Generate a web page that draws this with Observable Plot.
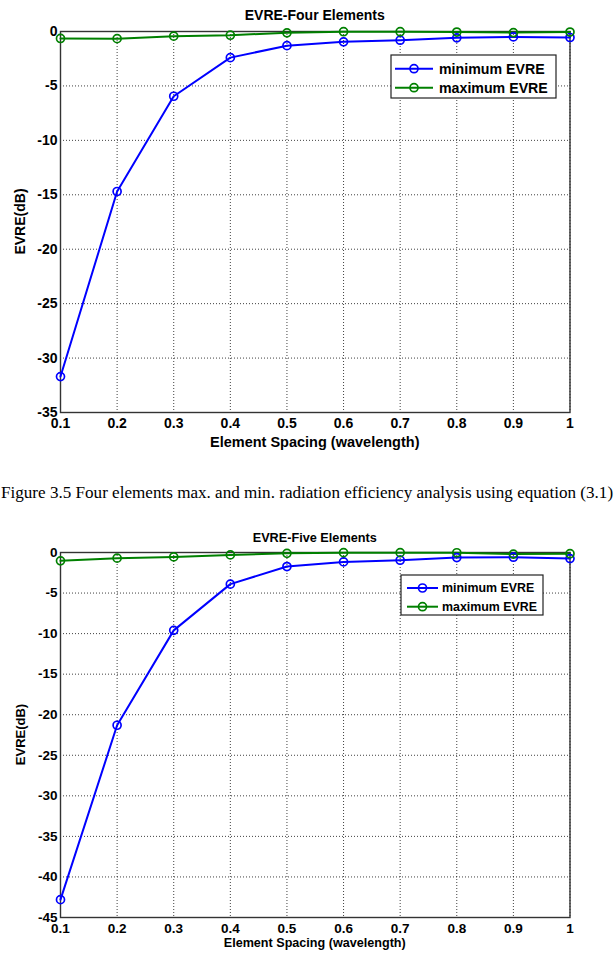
<!DOCTYPE html>
<html><head><meta charset="utf-8">
<script src="https://cdn.jsdelivr.net/npm/d3@7"></script>
<script src="https://cdn.jsdelivr.net/npm/@observablehq/plot@0.6"></script>
<style>
html,body{margin:0;padding:0;background:#fff;width:615px;height:955px;overflow:hidden;}
#root{position:relative;width:615px;height:955px;overflow:hidden;}
#caption{position:absolute;top:484px;left:1px;white-space:nowrap;font-family:"Liberation Serif","Times New Roman",serif;font-size:17.1px;color:#000;line-height:1;}
</style></head><body><div id="root"><div id="caption"></div></div>
<script>
// ---- data ----
const spacing = [0.1, 0.2, 0.3, 0.4, 0.5, 0.6, 0.7, 0.8, 0.9, 1.0];
const xTicks = [0.1, 0.2, 0.3, 0.4, 0.5, 0.6, 0.7, 0.8, 0.9, 1.0];
const seriesNames = ["minimum EVRE", "maximum EVRE"];
const seriesColors = ["#0000ff", "#008000"];

const fourMin = [-31.7, -14.7, -5.95, -2.4, -1.3, -0.95, -0.8, -0.58, -0.5, -0.55];
const fourMax = [-0.64, -0.66, -0.43, -0.34, -0.12, -0.02, -0.02, -0.05, -0.1, -0.05];
const fourYTicks = [0, -5, -10, -15, -20, -25, -30, -35];

const fiveMin = [-42.8, -21.3, -9.6, -3.9, -1.73, -1.16, -0.95, -0.62, -0.58, -0.75];
const fiveMax = [-1.03, -0.7, -0.54, -0.3, -0.1, -0.02, -0.02, -0.03, -0.2, -0.15];
const fiveYTicks = [0, -5, -10, -15, -20, -25, -30, -35, -40, -45];

const titles = ["EVRE-Four Elements", "EVRE-Five Elements"];
const xLabel = "Element Spacing (wavelength)";
const yLabel = "EVRE(dB)";
const captionText = "Figure 3.5 Four elements max. and min. radiation efficiency analysis using equation (3.1)";

document.getElementById("caption").textContent = captionText;

const FONT = "'Liberation Sans', Arial, Helvetica, sans-serif";

function makeChart(c) {
  const data = spacing.flatMap((s, i) => [
    {x: s, y: c.minV[i], series: seriesNames[0]},
    {x: s, y: c.maxV[i], series: seriesNames[1]}
  ]);
  const svg = Plot.plot({
    width: 615, height: c.height,
    marginLeft: 60, marginRight: 45.5, marginTop: c.marginTop, marginBottom: c.marginBottom,
    style: {fontFamily: FONT, fontWeight: "bold", fontSize: c.tickFont + "px", color: "#000", background: "transparent", overflow: "visible"},
    x: {domain: [0.1, 1], label: null},
    y: {domain: [c.yTicks[c.yTicks.length - 1], 0], label: null},
    color: {domain: seriesNames, range: seriesColors},
    marks: [
      Plot.gridX(xTicks, {stroke: "#000", strokeOpacity: 0.75, strokeDasharray: "1,2"}),
      Plot.gridY(c.yTicks, {stroke: "#000", strokeOpacity: 0.75, strokeDasharray: "1,2"}),
      Plot.frame({stroke: "#333", strokeWidth: 1.4}),
      Plot.axisX(xTicks, {tickSize: 0, tickPadding: 6, tickFormat: d => String(Math.round(d * 10) / 10), label: null}),
      Plot.axisY(c.yTicks, {tickSize: 0, tickPadding: 3, tickFormat: d => String(d), label: null}),
      Plot.line(data, {x: "x", y: "y", z: "series", stroke: "series", strokeWidth: 2}),
      Plot.dot(data, {x: "x", y: "y", stroke: "series", r: 4, strokeWidth: 1.7, fill: "none"})
    ]
  });
  svg.style.position = "absolute";
  svg.style.left = "0px";
  svg.style.top = c.top + "px";
  const s = d3.select(svg);
  const plotMid = 60 + (615 - 45.5 - 60) / 2;
  s.append("text").text(c.title)
    .attr("x", plotMid).attr("y", c.titleY).attr("text-anchor", "middle").attr("dominant-baseline", "central")
    .attr("font-family", FONT).attr("font-weight", "bold").attr("font-size", c.titleFont).attr("fill", "#000");
  s.append("text").text(xLabel)
    .attr("x", plotMid).attr("y", c.xLabelY).attr("text-anchor", "middle").attr("dominant-baseline", "central")
    .attr("font-family", FONT).attr("font-weight", "bold").attr("font-size", c.xLabelFont).attr("fill", "#000");
  const yMid = c.marginTop + (c.height - c.marginTop - c.marginBottom) / 2;
  s.append("text").text(yLabel)
    .attr("transform", `translate(${c.yLabelX},${yMid}) rotate(-90)`)
    .attr("text-anchor", "middle").attr("dominant-baseline", "central")
    .attr("font-family", FONT).attr("font-weight", "bold").attr("font-size", c.yLabelFont).attr("fill", "#000");
  // legend
  const L = c.legend;
  const g = s.append("g");
  g.append("rect").attr("x", L.x).attr("y", L.y).attr("width", L.w).attr("height", L.h)
    .attr("fill", "#fff").attr("stroke", "#222").attr("stroke-width", 1.2);
  seriesNames.forEach((name, i) => {
    const cy = L.y + L.row0 + i * L.gap;
    g.append("line").attr("x1", L.x + L.l0).attr("x2", L.x + L.l1).attr("y1", cy).attr("y2", cy)
      .attr("stroke", seriesColors[i]).attr("stroke-width", 2);
    g.append("circle").attr("cx", L.x + (L.l0 + L.l1) / 2).attr("cy", cy).attr("r", 4)
      .attr("fill", "none").attr("stroke", seriesColors[i]).attr("stroke-width", 1.7);
    g.append("text").text(name).attr("x", L.x + L.tx).attr("y", cy)
      .attr("text-anchor", "start").attr("dominant-baseline", "central")
      .attr("font-family", FONT).attr("font-weight", "bold").attr("font-size", L.font).attr("fill", "#000");
  });
  document.getElementById("root").appendChild(svg);
}

makeChart({
  top: 0, height: 460, marginTop: 31, marginBottom: 48,
  minV: fourMin, maxV: fourMax, yTicks: fourYTicks,
  title: titles[0], titleY: 15, titleFont: 14,
  xLabelY: 442, xLabelFont: 14.5, tickFont: 14,
  yLabelX: 20, yLabelFont: 14,
  legend: {x: 391, y: 55, w: 165, h: 43, row0: 13.7, gap: 19, l0: 4, l1: 42, tx: 48, font: 14.2}
});

makeChart({
  top: 515, height: 440, marginTop: 37, marginBottom: 38,
  minV: fiveMin, maxV: fiveMax, yTicks: fiveYTicks,
  title: titles[1], titleY: 23, titleFont: 12.7,
  xLabelY: 428, xLabelFont: 12.6, tickFont: 13.5,
  yLabelX: 20, yLabelFont: 13,
  legend: {x: 401, y: 60, w: 142, h: 40, row0: 13, gap: 18.7, l0: 6, l1: 37, tx: 41, font: 12.4}
});
</script>
</body></html>
